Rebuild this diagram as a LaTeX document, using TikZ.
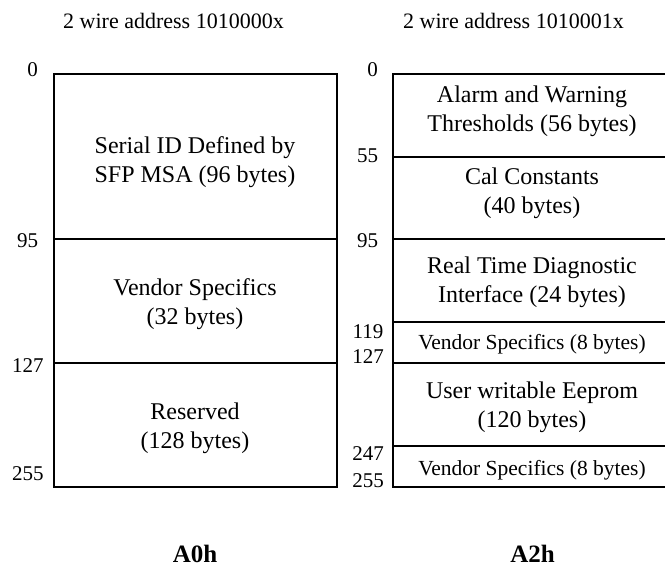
\documentclass[tikz,border=0pt]{standalone}
\usepackage{fontspec}
\setmainfont{Liberation Serif}
\begin{document}
\begin{tikzpicture}[x=1pt,y=-1pt,
  frame/.style={line width=2pt,line join=miter},
  cell/.style={inner sep=0pt,align=center,font=\fontsize{24}{29}\selectfont},
  smallcell/.style={inner sep=0pt,align=center,font=\fontsize{21.5}{26}\selectfont},
  num/.style={inner sep=0pt,anchor=base,font=\fontsize{21}{24}\selectfont},
  title/.style={inner sep=0pt,anchor=base west,font=\fontsize{22}{26}\selectfont},
  bank/.style={inner sep=0pt,anchor=base,font=\fontsize{25}{28}\selectfont\bfseries}]
\useasboundingbox (0,0) rectangle (665,565);
\clip (0,0) rectangle (665,565);
% titles
\node[title] (t0) at (63,28) {2 wire address 1010000x};
\node[title] (t2) at (403,28) {2 wire address 1010001x};
% left map
\draw[frame] (53.5,74) rectangle (336.5,487.3);
\draw[frame] (53.5,239) -- (336.5,239);
\draw[frame] (53.5,363) -- (336.5,363);
\node[cell] (serial) at (195,162) {Serial ID Defined by\\SFP MSA (96 bytes)};
\node[cell] (vend32) at (195,304) {Vendor Specifics\\(32 bytes)};
\node[cell] (resv) at (195,428) {Reserved\\(128 bytes)};
\node[num] (l0) at (32.5,76) {0};
\node[num] (l95) at (27.5,247) {95};
\node[num] (l127) at (28,372) {127};
\node[num] (l255) at (28,480) {255};
% right map
\draw[frame] (393,74) rectangle (672,487.3);
\foreach \yy in {156.7,239,321.7,362.7,446}
  \draw[frame] (393,\yy) -- (672,\yy);
\node[cell] (alarm) at (532,111) {Alarm and Warning\\Thresholds (56 bytes)};
\node[cell] (cal) at (532,193.5) {Cal Constants\\(40 bytes)};
\node[cell] (rtd) at (532,282) {Real Time Diagnostic\\Interface (24 bytes)};
\node[smallcell] (vend8a) at (532,344) {Vendor Specifics (8 bytes)};
\node[cell] (user) at (532,407) {User writable Eeprom\\(120 bytes)};
\node[smallcell] (vend8b) at (532,470) {Vendor Specifics (8 bytes)};
\node[num] (r0) at (372.5,76) {0};
\node[num] (r55) at (367.5,162) {55};
\node[num] (r95) at (367.5,247) {95};
\node[num] (r119) at (368,338) {119};
\node[num] (r127) at (368,363) {127};
\node[num] (r247) at (368,460) {247};
\node[num] (r255) at (368,487) {255};
% bank labels
\node[bank] (a0) at (195,562) {A0h};
\node[bank] (a2) at (532.5,562) {A2h};
\end{tikzpicture}
\end{document}
